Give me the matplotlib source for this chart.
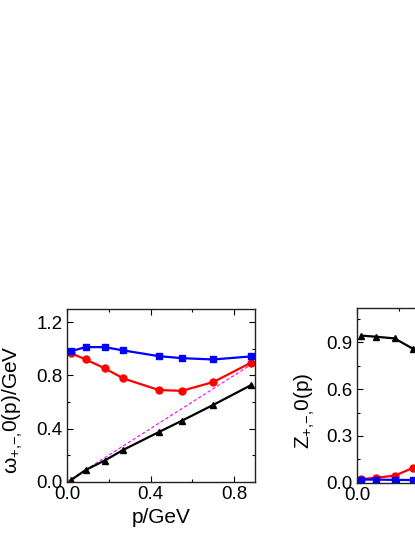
import numpy as np
import matplotlib
matplotlib.use('Agg')
import matplotlib.pyplot as plt
from matplotlib.ticker import MultipleLocator

plt.rcParams['font.family'] = ['Liberation Sans', 'DejaVu Sans']
plt.rcParams['mathtext.fontset'] = 'custom'
plt.rcParams['mathtext.rm'] = 'Liberation Sans'
plt.rcParams['mathtext.default'] = 'regular'

# momentum points (GeV)
p = [0.02, 0.09, 0.18, 0.27, 0.44, 0.55, 0.70, 0.88]

# left panel: dispersion relations
omega_plus = [0.983, 1.013, 1.013, 0.988, 0.945, 0.930, 0.920, 0.943]
omega_minus = [0.966, 0.920, 0.854, 0.777, 0.690, 0.684, 0.750, 0.895]
omega_zero = [0.013, 0.089, 0.159, 0.240, 0.374, 0.459, 0.578, 0.726]
light_p = [0.0, 0.9]

# right panel: residues (only the left part is visible)
z_plus = [0.020, 0.020, 0.018, 0.017, 0.016, 0.015, 0.014, 0.013]
z_minus = [0.022, 0.032, 0.045, 0.096, 0.20, 0.28, 0.38, 0.48]
z_zero = [0.943, 0.936, 0.925, 0.857, 0.74, 0.66, 0.55, 0.45]

W, H = 415, 537
fig = plt.figure(figsize=(W / 100, H / 100), dpi=100)

ax1 = fig.add_axes([67 / W, 1 - 481.7 / H, 188 / W, 172.7 / H])
ax2 = fig.add_axes([357 / W, 1 - 482.7 / H, 188 / W, 174.7 / H])

lw = 1.6
ms = 5
sub = '$_{{+}{,}{-}{,}}$'

ax1.plot(light_p, light_p, '--', color='#FF00FF', lw=0.8, dashes=(3, 2))
ax1.plot(p, omega_zero, '-^', color='black', lw=lw, ms=ms)
ax1.plot(p, omega_minus, '-o', color='#FF0000', lw=lw, ms=ms)
ax1.plot(p, omega_plus, '-s', color='#0000FF', lw=lw, ms=ms)
ax1.set_xlim(0, 0.9)
ax1.set_ylim(0, 1.3)
ax1.xaxis.set_major_locator(MultipleLocator(0.4))
ax1.xaxis.set_minor_locator(MultipleLocator(0.2))
ax1.yaxis.set_major_locator(MultipleLocator(0.4))
ax1.yaxis.set_minor_locator(MultipleLocator(0.2))
ax1.set_xlabel('p/GeV', fontsize=15)
ax1.set_ylabel('ω' + sub + '0(p)/GeV', fontsize=15)
ax1.xaxis.set_label_coords(0.5, -0.155)
ax1.yaxis.set_label_coords(-0.225, 0.415)

ax2.plot(p, z_zero, '-^', color='black', lw=lw, ms=ms)
ax2.plot(p, z_minus, '-o', color='#FF0000', lw=lw, ms=ms)
ax2.plot(p, z_plus, '-s', color='#0000FF', lw=lw, ms=ms)
ax2.set_xlim(0, 0.9)
ax2.set_ylim(0, 1.12)
ax2.xaxis.set_major_locator(MultipleLocator(0.4))
ax2.xaxis.set_minor_locator(MultipleLocator(0.2))
ax2.yaxis.set_major_locator(MultipleLocator(0.3))
ax2.yaxis.set_minor_locator(MultipleLocator(0.15))
ax2.set_xlabel('p/GeV', fontsize=15)
ax2.set_ylabel('Z' + sub + '0(p)', fontsize=15)
ax2.xaxis.set_label_coords(0.5, -0.155)
ax2.yaxis.set_label_coords(-0.215, 0.41)

for ax in (ax1, ax2):
    for s in ax.spines.values():
        s.set_linewidth(1.0)
        s.set_color('#222222')
    ax.tick_params(which='both', direction='in', top=True, right=True,
                   labelsize=13.5, pad=3)
    ax.tick_params(which='major', length=4, width=0.8)
    ax.tick_params(which='minor', length=2.5, width=0.8)

fig.savefig('out.png', dpi=100)
